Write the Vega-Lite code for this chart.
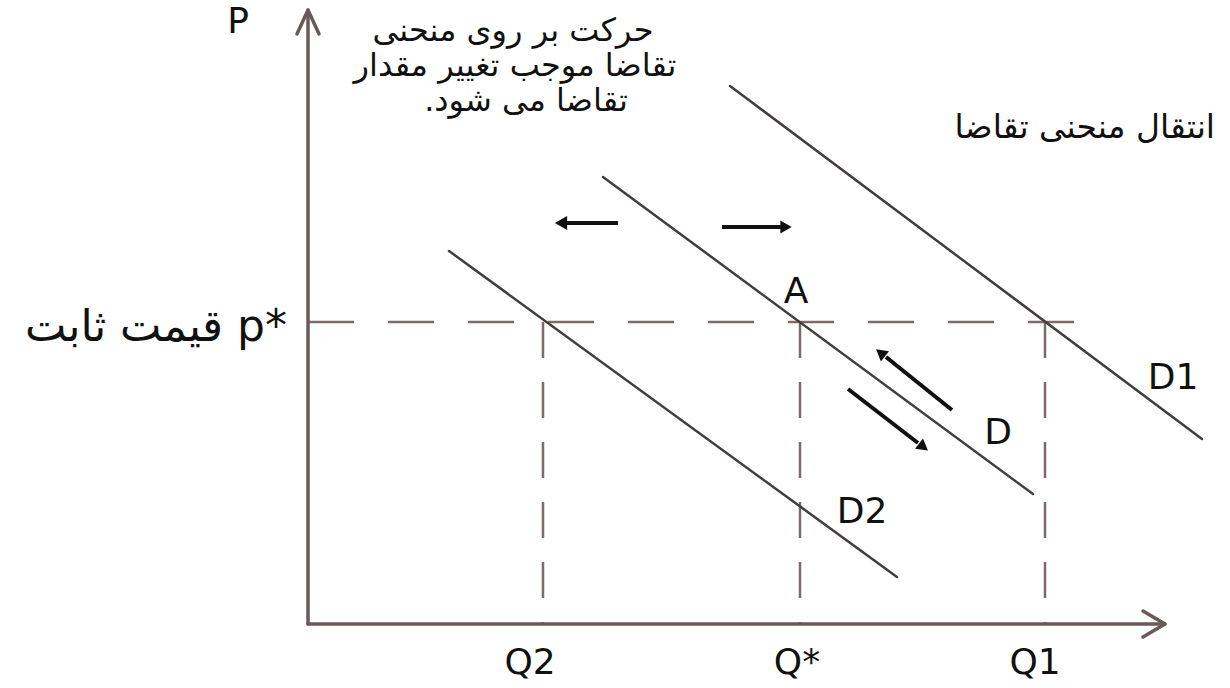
{
  "$schema": "https://vega.github.io/schema/vega-lite/v6.json",
  "autosize": {"type": "fit", "contains": "padding"},
  "width": 1230,
  "height": 688,
  "padding": 0,
  "background": "white",
  "config": {"view": {"stroke": null}},
  "datasets": {
    "lines": [
      {"id": "h", "kind": "guideh", "q": 0, "p": 30.2, "o": 1},
      {"id": "h", "kind": "guideh", "q": 76.7, "p": 30.2, "o": 2},
      {"id": "v2", "kind": "guidev", "q": 23.5, "p": 30.2, "o": 1},
      {"id": "v2", "kind": "guidev", "q": 23.5, "p": 0, "o": 2},
      {"id": "vs", "kind": "guidev", "q": 49.2, "p": 30.2, "o": 1},
      {"id": "vs", "kind": "guidev", "q": 49.2, "p": 0, "o": 2},
      {"id": "v1", "kind": "guidev", "q": 73.7, "p": 30.2, "o": 1},
      {"id": "v1", "kind": "guidev", "q": 73.7, "p": 0, "o": 2},
      {"id": "yaxis", "kind": "axis", "q": 0, "p": 0, "o": 1},
      {"id": "yaxis", "kind": "axis", "q": 0, "p": 61.4, "o": 2},
      {"id": "yhead", "kind": "axis", "q": -1.1, "p": 59.0, "o": 1},
      {"id": "yhead", "kind": "axis", "q": 0, "p": 61.4, "o": 2},
      {"id": "yhead", "kind": "axis", "q": 1.1, "p": 59.0, "o": 3},
      {"id": "xaxis", "kind": "axis", "q": 0, "p": 0, "o": 1},
      {"id": "xaxis", "kind": "axis", "q": 85.7, "p": 0, "o": 2},
      {"id": "xhead", "kind": "axis", "q": 83.5, "p": 1.3, "o": 1},
      {"id": "xhead", "kind": "axis", "q": 85.7, "p": 0, "o": 2},
      {"id": "xhead", "kind": "axis", "q": 83.5, "p": -1.3, "o": 3},
      {"id": "D", "kind": "demand", "q": 29.5, "p": 44.7, "o": 1},
      {"id": "D", "kind": "demand", "q": 72.5, "p": 13.0, "o": 2},
      {"id": "D1", "kind": "demand", "q": 42.2, "p": 53.8, "o": 1},
      {"id": "D1", "kind": "demand", "q": 89.4, "p": 18.5, "o": 2},
      {"id": "D2", "kind": "demand", "q": 14.1, "p": 37.3, "o": 1},
      {"id": "D2", "kind": "demand", "q": 58.9, "p": 4.7, "o": 2},
      {"id": "al", "kind": "arrow", "q": 31.0, "p": 40.1, "o": 1},
      {"id": "al", "kind": "arrow", "q": 25.5, "p": 40.1, "o": 2},
      {"id": "ar", "kind": "arrow", "q": 41.4, "p": 39.7, "o": 1},
      {"id": "ar", "kind": "arrow", "q": 47.5, "p": 39.7, "o": 2},
      {"id": "aul", "kind": "arrow", "q": 64.4, "p": 21.4, "o": 1},
      {"id": "aul", "kind": "arrow", "q": 57.8, "p": 26.7, "o": 2},
      {"id": "adr", "kind": "arrow", "q": 54.0, "p": 23.5, "o": 1},
      {"id": "adr", "kind": "arrow", "q": 61.0, "p": 18.1, "o": 2}
    ],
    "heads": [
      {"id": "al", "q": 25.3, "p": 40.1},
      {"id": "ar", "q": 47.8, "p": 39.7},
      {"id": "aul", "q": 57.4, "p": 27.0},
      {"id": "adr", "q": 61.4, "p": 17.8}
    ],
    "labels": [
      {"label": "P", "q": -7.0, "p": 60.2, "group": "latin"},
      {"label": "A", "q": 48.8, "p": 33.2, "group": "latin"},
      {"label": "D1", "q": 86.5, "p": 24.6, "group": "latin"},
      {"label": "D", "q": 69.0, "p": 19.1, "group": "latin"},
      {"label": "D2", "q": 55.4, "p": 11.2, "group": "latin"},
      {"label": "Q2", "q": 22.2, "p": -3.9, "group": "latin"},
      {"label": "Q*", "q": 48.9, "p": -3.9, "group": "latin"},
      {"label": "Q1", "q": 72.7, "p": -3.9, "group": "latin"},
      {"label": "حرکت بر روی منحنی", "q": 20.5, "p": 59.3, "group": "farsi"},
      {"label": "تقاضا موجب تغییر مقدار", "q": 20.7, "p": 55.8, "group": "farsi"},
      {"label": "تقاضا می شود.‏", "q": 21.8, "p": 52.3, "group": "farsi"},
      {"label": "انتقال منحنی تقاضا", "q": 90.7, "p": 49.6, "group": "farsiright"},
      {"label": "قیمت ثابت p*", "q": -2.1, "p": 29.6, "group": "pstar"}
    ]
  },
  "layer": [
    {
      "data": {"name": "lines"},
      "transform": [{"filter": "datum.kind == 'guideh'"}],
      "mark": {"type": "line", "color": "#7d6b6b", "strokeWidth": 2.5, "strokeDash": [46, 34]},
      "encoding": {
        "x": {"field": "q", "type": "quantitative", "scale": {"domain": [-30.8, 92.2], "nice": false, "zero": false}, "axis": null},
        "y": {"field": "p", "type": "quantitative", "scale": {"domain": [-6.4, 62.4], "nice": false, "zero": false}, "axis": null},
        "detail": {"field": "id"},
        "order": {"field": "o"}
      }
    },
    {
      "data": {"name": "lines"},
      "transform": [{"filter": "datum.kind == 'guidev'"}],
      "mark": {"type": "line", "color": "#7d6b6b", "strokeWidth": 2.5, "strokeDash": [36, 24]},
      "encoding": {
        "x": {"field": "q", "type": "quantitative"},
        "y": {"field": "p", "type": "quantitative"},
        "detail": {"field": "id"},
        "order": {"field": "o"}
      }
    },
    {
      "data": {"name": "lines"},
      "transform": [{"filter": "datum.kind == 'axis'"}],
      "mark": {"type": "line", "color": "#6b5858", "strokeWidth": 3.5, "strokeCap": "round", "strokeJoin": "round"},
      "encoding": {
        "x": {"field": "q", "type": "quantitative"},
        "y": {"field": "p", "type": "quantitative"},
        "detail": {"field": "id"},
        "order": {"field": "o"}
      }
    },
    {
      "data": {"name": "lines"},
      "transform": [{"filter": "datum.kind == 'demand'"}],
      "mark": {"type": "line", "color": "#453d3d", "strokeWidth": 2.5, "strokeCap": "round"},
      "encoding": {
        "x": {"field": "q", "type": "quantitative"},
        "y": {"field": "p", "type": "quantitative"},
        "detail": {"field": "id"},
        "order": {"field": "o"}
      }
    },
    {
      "data": {"name": "lines"},
      "transform": [{"filter": "datum.kind == 'arrow'"}],
      "mark": {"type": "line", "color": "#111111", "strokeWidth": 4},
      "encoding": {
        "x": {"field": "q", "type": "quantitative"},
        "y": {"field": "p", "type": "quantitative"},
        "detail": {"field": "id"},
        "order": {"field": "o"}
      }
    },
    {
      "data": {"name": "heads"},
      "transform": [{"filter": "datum.id == 'al'"}],
      "mark": {"type": "point", "shape": "triangle-left", "filled": true, "color": "#111111", "size": 200, "opacity": 1},
      "encoding": {"x": {"field": "q", "type": "quantitative"}, "y": {"field": "p", "type": "quantitative"}}
    },
    {
      "data": {"name": "heads"},
      "transform": [{"filter": "datum.id == 'ar'"}],
      "mark": {"type": "point", "shape": "triangle-right", "filled": true, "color": "#111111", "size": 170, "opacity": 1},
      "encoding": {"x": {"field": "q", "type": "quantitative"}, "y": {"field": "p", "type": "quantitative"}}
    },
    {
      "data": {"name": "heads"},
      "transform": [{"filter": "datum.id == 'aul'"}],
      "mark": {"type": "point", "shape": "triangle", "angle": 308.5, "filled": true, "color": "#111111", "size": 170, "opacity": 1},
      "encoding": {"x": {"field": "q", "type": "quantitative"}, "y": {"field": "p", "type": "quantitative"}}
    },
    {
      "data": {"name": "heads"},
      "transform": [{"filter": "datum.id == 'adr'"}],
      "mark": {"type": "point", "shape": "triangle", "angle": 127.6, "filled": true, "color": "#111111", "size": 170, "opacity": 1},
      "encoding": {"x": {"field": "q", "type": "quantitative"}, "y": {"field": "p", "type": "quantitative"}}
    },
    {
      "data": {"name": "labels"},
      "transform": [{"filter": "datum.group == 'latin'"}],
      "mark": {"type": "text", "font": "DejaVu Sans", "fontSize": 36, "color": "#111111", "align": "center", "baseline": "middle"},
      "encoding": {"x": {"field": "q", "type": "quantitative"}, "y": {"field": "p", "type": "quantitative"}, "text": {"field": "label"}}
    },
    {
      "data": {"name": "labels"},
      "transform": [{"filter": "datum.group == 'farsi'"}],
      "mark": {"type": "text", "font": "DejaVu Sans", "fontSize": 32, "color": "#111111", "align": "center", "baseline": "middle"},
      "encoding": {"x": {"field": "q", "type": "quantitative"}, "y": {"field": "p", "type": "quantitative"}, "text": {"field": "label"}}
    },
    {
      "data": {"name": "labels"},
      "transform": [{"filter": "datum.group == 'farsiright'"}],
      "mark": {"type": "text", "font": "DejaVu Sans", "fontSize": 33, "color": "#111111", "align": "right", "baseline": "middle"},
      "encoding": {"x": {"field": "q", "type": "quantitative"}, "y": {"field": "p", "type": "quantitative"}, "text": {"field": "label"}}
    },
    {
      "data": {"name": "labels"},
      "transform": [{"filter": "datum.group == 'pstar'"}],
      "mark": {"type": "text", "font": "DejaVu Sans", "fontSize": 44, "color": "#111111", "align": "right", "baseline": "middle"},
      "encoding": {"x": {"field": "q", "type": "quantitative"}, "y": {"field": "p", "type": "quantitative"}, "text": {"field": "label"}}
    }
  ]
}
